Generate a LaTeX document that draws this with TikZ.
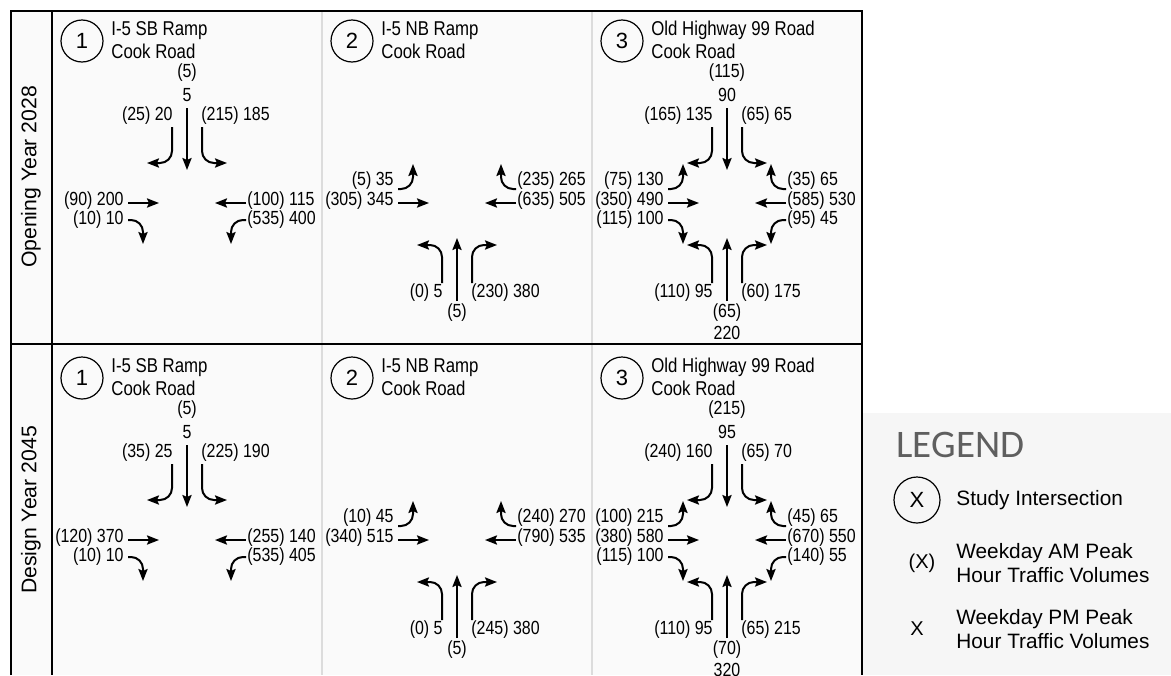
\documentclass[tikz,border=0pt]{standalone}
\usepackage{fontspec}
\setmainfont{Liberation Sans}
\newfontfamily\narrowsans[FakeStretch=0.84]{Liberation Sans}
\newfontfamily\legendsans{Carlito}
\usetikzlibrary{arrows.meta}
\definecolor{panel}{HTML}{FAFAFA}
\definecolor{legbg}{HTML}{F6F6F6}
\definecolor{colsep}{HTML}{DCDCDC}
\definecolor{leggray}{HTML}{5F5F5F}

\begin{document}
\begin{tikzpicture}[x=0.5pt,y=-0.5pt,
  flow/.style={line width=1pt,rounded corners=6pt,-{Stealth[length=6pt,width=4.6pt,inset=1pt]}},
  vol/.style={font=\narrowsans\fontsize{9.5}{11}\selectfont,inner sep=0pt},
  ttl/.style={font=\narrowsans\fontsize{10}{11.5}\selectfont,inner sep=0pt,align=left,anchor=west},
  idx/.style={draw,circle,line width=0.6pt,minimum size=21pt,inner sep=0pt,font=\fontsize{11}{12}\selectfont},
  rowlab/.style={rotate=90,inner sep=0pt,font=\fontsize{10.6}{12}\selectfont},
  leg/.style={inner sep=0pt,align=left,anchor=west,font=\fontsize{10.4}{12}\selectfont},
  rule/.style={line width=1pt},
  pics/sbt/.style 2 args={code={\draw[flow] (0,-95) -- (0,-33);
    \node[vol] (-am) at (0,-130) {#1}; \node[vol] (-pm) at (0,-108) {#2};}},
  pics/sbw/.style={code={\draw[flow] (-15,-76) -- (-15,-40) -- (-40,-40);
    \node[vol,anchor=east] (-v) at (-14,-87) {#1};}},
  pics/sbe/.style={code={\draw[flow] (15,-76) -- (15,-40) -- (40,-40);
    \node[vol,anchor=west] (-v) at (14,-87) {#1};}},
  pics/nbt/.style 2 args={code={\draw[flow] (0,98) -- (0,35);
    \node[vol] (-am) at (0,110) {#1}; \node[vol] (-pm) at (0,130) {#2};}},
  pics/nbw/.style={code={\draw[flow] (-15,80) -- (-15,42) -- (-40,42);
    \node[vol,anchor=east] (-v) at (-14,90) {#1};}},
  pics/nbe/.style={code={\draw[flow] (15,80) -- (15,42) -- (40,42);
    \node[vol,anchor=west] (-v) at (14,90) {#1};}},
  pics/ebu/.style={code={\draw[flow] (-59,-14) -- (-44,-14) -- (-44,-39);
    \node[vol,anchor=east] (-v) at (-63,-22) {#1};}},
  pics/ebt/.style={code={\draw[flow] (-59,0) -- (-28,0);
    \node[vol,anchor=east] (-v) at (-63,-2) {#1};}},
  pics/ebd/.style={code={\draw[flow] (-59,17) -- (-44,17) -- (-44,41);
    \node[vol,anchor=east] (-v) at (-63,17) {#1};}},
  pics/wbu/.style={code={\draw[flow] (59,-14) -- (44,-14) -- (44,-39);
    \node[vol,anchor=west] (-v) at (60,-22) {#1};}},
  pics/wbt/.style={code={\draw[flow] (59,0) -- (28,0);
    \node[vol,anchor=west] (-v) at (60,-2) {#1};}},
  pics/wbd/.style={code={\draw[flow] (59,17) -- (44,17) -- (44,41);
    \node[vol,anchor=west] (-v) at (60,17) {#1};}}]
\useasboundingbox (0,0) rectangle (1171,675);
% panels and frame
\fill[panel] (11,11) rectangle (862,675);
\fill[legbg] (862,413) rectangle (1171,675);
\draw[colsep,line width=0.6pt] (322,11) -- (322,675) (592,11) -- (592,675);
\draw[line width=0.7pt] (11,344) -- (862,344);
\draw[rule] (11,675) -- (11,11) -- (862,11) -- (862,675);
\draw[rule] (52,11) -- (52,675);
\node[rowlab] (open) at (31,177) {Opening Year 2028};
\node[rowlab] (design) at (31,510) {Design Year 2045};

% opening year 2028
\begin{scope}[shift={(187,203)}]
\node[idx] (o1) at (-105,-162) {1};
\node[ttl] (o1name) at (-76,-163) {I-5 SB Ramp\\Cook Road};
\pic (o1sbt) {sbt={(5)}{5}};
\pic (o1sbw) {sbw={(25) 20}};
\pic (o1sbe) {sbe={(215) 185}};
\pic (o1ebt) {ebt={(90) 200}};
\pic (o1ebd) {ebd={(10) 10}};
\pic (o1wbt) {wbt={(100) 115}};
\pic (o1wbd) {wbd={(535) 400}};
\end{scope}
\begin{scope}[shift={(457,203)}]
\node[idx] (o2) at (-105,-162) {2};
\node[ttl] (o2name) at (-76,-163) {I-5 NB Ramp\\Cook Road};
\pic (o2ebu) {ebu={(5) 35}};
\pic (o2ebt) {ebt={(305) 345}};
\pic (o2wbu) {wbu={(235) 265}};
\pic (o2wbt) {wbt={(635) 505}};
\pic (o2nbw) {nbw={(0) 5}};
\pic (o2nbt) {nbt={(5)}{}};
\pic (o2nbe) {nbe={(230) 380}};
\end{scope}
\begin{scope}[shift={(727,203)}]
\node[idx] (o3) at (-105,-162) {3};
\node[ttl] (o3name) at (-76,-163) {Old Highway 99 Road\\Cook Road};
\pic (o3sbt) {sbt={(115)}{90}};
\pic (o3sbw) {sbw={(165) 135}};
\pic (o3sbe) {sbe={(65) 65}};
\pic (o3ebu) {ebu={(75) 130}};
\pic (o3ebt) {ebt={(350) 490}};
\pic (o3ebd) {ebd={(115) 100}};
\pic (o3wbu) {wbu={(35) 65}};
\pic (o3wbt) {wbt={(585) 530}};
\pic (o3wbd) {wbd={(95) 45}};
\pic (o3nbw) {nbw={(110) 95}};
\pic (o3nbt) {nbt={(65)}{220}};
\pic (o3nbe) {nbe={(60) 175}};
\end{scope}

% design year 2045
\begin{scope}[shift={(187,540)}]
\node[idx] (d1) at (-105,-162) {1};
\node[ttl] (d1name) at (-76,-163) {I-5 SB Ramp\\Cook Road};
\pic (d1sbt) {sbt={(5)}{5}};
\pic (d1sbw) {sbw={(35) 25}};
\pic (d1sbe) {sbe={(225) 190}};
\pic (d1ebt) {ebt={(120) 370}};
\pic (d1ebd) {ebd={(10) 10}};
\pic (d1wbt) {wbt={(255) 140}};
\pic (d1wbd) {wbd={(535) 405}};
\end{scope}
\begin{scope}[shift={(457,540)}]
\node[idx] (d2) at (-105,-162) {2};
\node[ttl] (d2name) at (-76,-163) {I-5 NB Ramp\\Cook Road};
\pic (d2ebu) {ebu={(10) 45}};
\pic (d2ebt) {ebt={(340) 515}};
\pic (d2wbu) {wbu={(240) 270}};
\pic (d2wbt) {wbt={(790) 535}};
\pic (d2nbw) {nbw={(0) 5}};
\pic (d2nbt) {nbt={(5)}{}};
\pic (d2nbe) {nbe={(245) 380}};
\end{scope}
\begin{scope}[shift={(727,540)}]
\node[idx] (d3) at (-105,-162) {3};
\node[ttl] (d3name) at (-76,-163) {Old Highway 99 Road\\Cook Road};
\pic (d3sbt) {sbt={(215)}{95}};
\pic (d3sbw) {sbw={(240) 160}};
\pic (d3sbe) {sbe={(65) 70}};
\pic (d3ebu) {ebu={(100) 215}};
\pic (d3ebt) {ebt={(380) 580}};
\pic (d3ebd) {ebd={(115) 100}};
\pic (d3wbu) {wbu={(45) 65}};
\pic (d3wbt) {wbt={(670) 550}};
\pic (d3wbd) {wbd={(140) 55}};
\pic (d3nbw) {nbw={(110) 95}};
\pic (d3nbt) {nbt={(70)}{320}};
\pic (d3nbe) {nbe={(65) 215}};
\end{scope}

% legend
\node[inner sep=0pt,anchor=west,text=leggray,font=\legendsans\fontsize{19.5}{22}\selectfont] (legend) at (896,445) {LEGEND};
\node[idx,minimum size=23pt] (legcirc) at (917,500) {X};
\node[leg] (legstudy) at (956,500) {Study Intersection};
\node[inner sep=0pt,font=\fontsize{10}{12}\selectfont] (legam) at (922,563) {(X)};
\node[leg] (legamtxt) at (956,563) {Weekday AM Peak\\Hour Traffic Volumes};
\node[inner sep=0pt,font=\fontsize{10}{12}\selectfont] (legpm) at (917,629) {X};
\node[leg] (legpmtxt) at (956,629) {Weekday PM Peak\\Hour Traffic Volumes};
\end{tikzpicture}
\end{document}
